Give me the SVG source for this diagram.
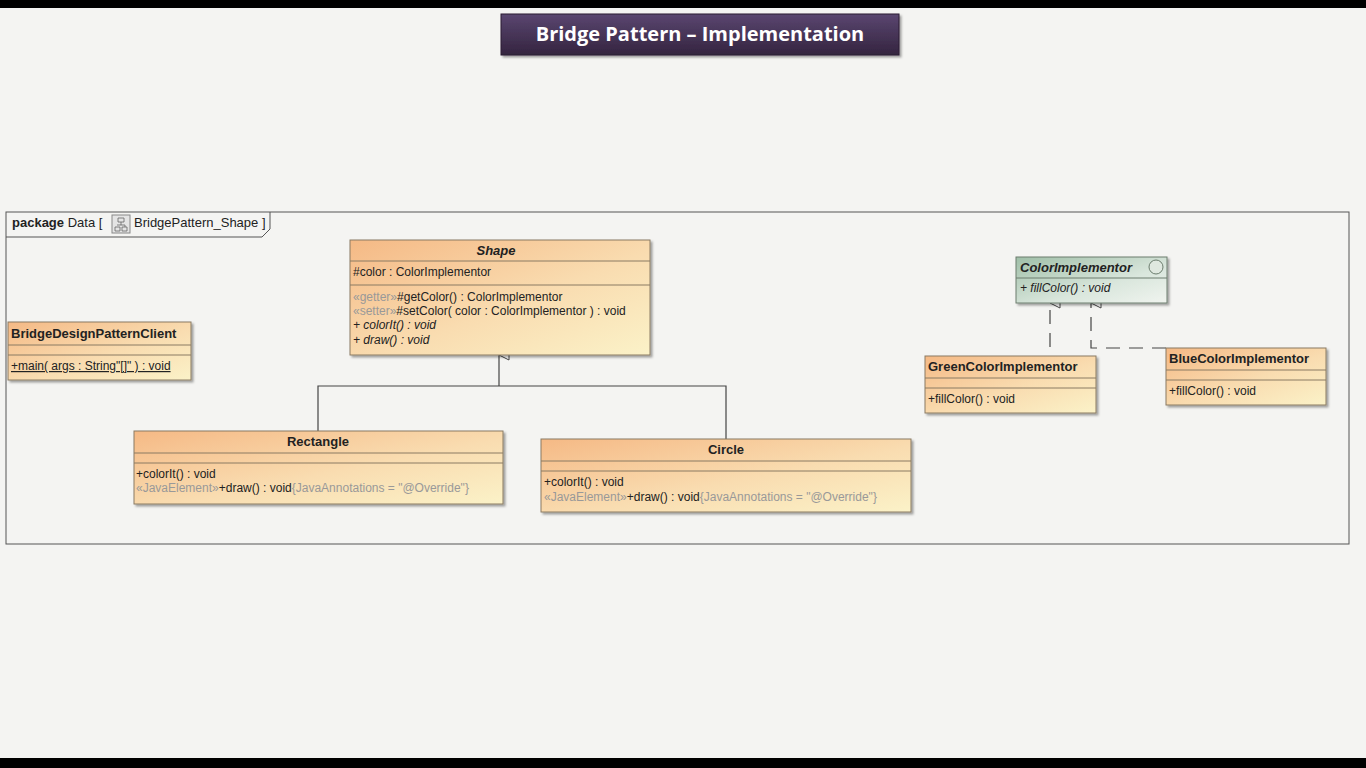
<svg xmlns="http://www.w3.org/2000/svg" width="1366" height="768" viewBox="0 0 1366 768">
<defs>
<linearGradient id="cls" x1="0" y1="0" x2="1" y2="1"><stop offset="0" stop-color="#f5b985"/><stop offset="0.55" stop-color="#f9dcb0"/><stop offset="1" stop-color="#fbf2c8"/></linearGradient>
<linearGradient id="ifc" x1="0" y1="0" x2="1" y2="1"><stop offset="0" stop-color="#9fbfa8"/><stop offset="0.6" stop-color="#d9e6dc"/><stop offset="1" stop-color="#f0f4ef"/></linearGradient>
<linearGradient id="ttl" x1="0" y1="0" x2="0" y2="1"><stop offset="0" stop-color="#5a4670"/><stop offset="1" stop-color="#34243f"/></linearGradient>
<filter id="sh" x="-5%" y="-5%" width="110%" height="120%"><feDropShadow dx="2" dy="2" stdDeviation="1.2" flood-color="#000" flood-opacity="0.35"/></filter>
<marker id="tri" viewBox="0 0 12 12" refX="6" refY="1" markerWidth="12" markerHeight="12" markerUnits="userSpaceOnUse" orient="auto-start-reverse"><path d="M6,1 L11,11 L1,11 Z" fill="#fff" stroke="#444" stroke-width="1"/></marker>
</defs>
<style>
text{font-family:"Liberation Sans",Arial,sans-serif;font-size:12px;fill:#222}
.b{font-weight:bold;font-size:13px}
.g{fill:#999}
.box{fill:url(#cls);stroke:#8a7a62;stroke-width:1;filter:url(#sh)}
.ibox{fill:url(#ifc);stroke:#6c7d6e;stroke-width:1;filter:url(#sh)}
.sep{stroke:#8a7a62;stroke-width:1}
.ln{stroke:#444;stroke-width:1.2;fill:none}
.dash{stroke-dasharray:14,9}
</style>
<rect width="1366" height="768" fill="#f4f4f2"/>
<rect width="1366" height="8" fill="#000"/>
<rect y="758" width="1366" height="10" fill="#000"/>
<g id="title">
<rect x="501" y="14" width="398" height="41" fill="url(#ttl)" stroke="#2a1d33" filter="url(#sh)"/>
<text x="700" y="41" text-anchor="middle" style="font-family:'Open Sans','Liberation Sans',sans-serif;font-size:20px;font-weight:bold;fill:#fff">Bridge Pattern – Implementation</text>
</g>
<g id="package">
<rect x="6" y="212" width="1343" height="332" fill="none" stroke="#555" stroke-width="1"/>
<path d="M6,237 H262 L270,229 V212" fill="none" stroke="#555"/>
<text x="12" y="227" style="font-size:13px"><tspan font-weight="bold">package</tspan> Data [</text>
<rect x="112" y="215" width="18" height="18" fill="#e4e4e4" stroke="#888"/>
<path d="M118,218 h6 v4 h-6 z M115,227 h5 v4 h-5 z M122,227 h5 v4 h-5 z M121,222 v3 M117,225 h8 v2" fill="none" stroke="#666" stroke-width="0.8"/>
<text x="134" y="227" style="font-size:13px">BridgePattern_Shape ]</text>
</g>
<g id="connectors">
<path class="ln" d="M318,431 V386 H726 V439"/>
<path class="ln" d="M499,386 V355" marker-end="url(#tri)"/>
<path class="ln dash" d="M1050,347 V303" marker-end="url(#tri)"/>
<path class="ln dash" d="M1166,348 H1091 V303" marker-end="url(#tri)"/>
</g>
<g id="Shape">
<rect class="box" x="350" y="240" width="300" height="115"/>
<line class="sep" x1="350" y1="261" x2="650" y2="261"/><line class="sep" x1="350" y1="285" x2="650" y2="285"/>
<text x="496" y="255" text-anchor="middle" class="b" font-style="italic">Shape</text>
<text x="353" y="276">#color : ColorImplementor</text>
<text x="353" y="301"><tspan class="g">«getter»</tspan>#getColor() : ColorImplementor</text>
<text x="353" y="315"><tspan class="g">«setter»</tspan>#setColor( color : ColorImplementor ) : void</text>
<text x="353" y="329" font-style="italic">+ colorIt() : void</text>
<text x="353" y="344" font-style="italic">+ draw() : void</text>
</g>
<g id="BridgeDesignPatternClient">
<rect class="box" x="8" y="322" width="183" height="58"/>
<line class="sep" x1="8" y1="345" x2="191" y2="345"/><line class="sep" x1="8" y1="355" x2="191" y2="355"/>
<text x="11" y="338" class="b">BridgeDesignPatternClient</text>
<text x="11" y="370" text-decoration="underline">+main( args : String"[]" ) : void</text>
</g>
<g id="Rectangle">
<rect class="box" x="134" y="431" width="369" height="73"/>
<line class="sep" x1="134" y1="453" x2="503" y2="453"/><line class="sep" x1="134" y1="463" x2="503" y2="463"/>
<text x="318" y="446" text-anchor="middle" class="b">Rectangle</text>
<text x="136" y="478">+colorIt() : void</text>
<text x="136" y="492"><tspan class="g">«JavaElement»</tspan>+draw() : void<tspan class="g">{JavaAnnotations = "@Override"}</tspan></text>
</g>
<g id="Circle">
<rect class="box" x="541" y="439" width="370" height="73"/>
<line class="sep" x1="541" y1="461" x2="911" y2="461"/><line class="sep" x1="541" y1="471" x2="911" y2="471"/>
<text x="726" y="454" text-anchor="middle" class="b">Circle</text>
<text x="544" y="486">+colorIt() : void</text>
<text x="544" y="501"><tspan class="g">«JavaElement»</tspan>+draw() : void<tspan class="g">{JavaAnnotations = "@Override"}</tspan></text>
</g>
<g id="ColorImplementor">
<rect class="ibox" x="1016" y="257" width="151" height="46"/>
<line x1="1016" y1="278" x2="1167" y2="278" stroke="#6c7d6e"/>
<text x="1020" y="272" class="b" font-style="italic">ColorImplementor</text>
<circle cx="1156" cy="267" r="7" fill="#dfe8df" stroke="#6c7d6e"/>
<text x="1020" y="292" font-style="italic">+ fillColor() : void</text>
</g>
<g id="GreenColorImplementor">
<rect class="box" x="925" y="356" width="171" height="57"/>
<line class="sep" x1="925" y1="378" x2="1096" y2="378"/><line class="sep" x1="925" y1="388" x2="1096" y2="388"/>
<text x="928" y="371" class="b">GreenColorImplementor</text>
<text x="928" y="403">+fillColor() : void</text>
</g>
<g id="BlueColorImplementor">
<rect class="box" x="1166" y="348" width="160" height="57"/>
<line class="sep" x1="1166" y1="370" x2="1326" y2="370"/><line class="sep" x1="1166" y1="380" x2="1326" y2="380"/>
<text x="1169" y="363" class="b">BlueColorImplementor</text>
<text x="1169" y="395">+fillColor() : void</text>
</g>
</svg>
